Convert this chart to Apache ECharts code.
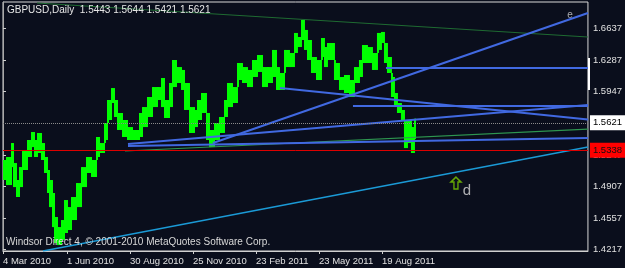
<!DOCTYPE html>
<html><head><meta charset="utf-8">
<script src="https://cdn.jsdelivr.net/npm/echarts@6/dist/echarts.min.js"></script>
<style>html,body{margin:0;padding:0;background:#0a0e1c;}#c{width:625px;height:268px;}</style>
</head><body><div id="c"></div>
<script>
const segStart = [0,4,9,11,14,17,20,25,29,32,35,39,42,45,47,50,52,55,59,62,65,69,74,79,84,89,94,97,102,105,109,112,115,120,125,130,137,140,145,150,155,159,162,167,170,174,179,182,187,192,195,199,204,207,212,217,222,225,230,235,240,245,250,255,260,265,270,274,277,282,287,292,295,299,302,305,309,314,319,322,325,332,337,342,347,352,357,360,365,370,375,379,382,385,389,392,395,399,402,405,409,412];
const segHigh = [1.5192,1.5225,1.5378,1.5159,1.4973,1.5115,1.5302,1.5411,1.5499,1.5411,1.5488,1.5378,1.5225,1.5083,1.4973,1.4831,1.4568,1.4458,1.4535,1.4754,1.4677,1.4787,1.4940,1.5115,1.5225,1.5192,1.5444,1.5378,1.5597,1.5849,1.5980,1.5849,1.5707,1.5630,1.5553,1.5521,1.5707,1.5772,1.5882,1.5991,1.5991,1.6090,1.5849,1.6035,1.6287,1.6210,1.6178,1.6035,1.5772,1.5740,1.5849,1.5926,1.5707,1.5521,1.5597,1.5663,1.5849,1.6035,1.5991,1.6254,1.6210,1.6178,1.6287,1.6342,1.6210,1.6210,1.6397,1.6210,1.6145,1.6397,1.6364,1.6583,1.6539,1.6725,1.6616,1.6506,1.6320,1.6287,1.6528,1.6429,1.6473,1.6254,1.6101,1.6123,1.6068,1.6210,1.6287,1.6451,1.6429,1.6364,1.6583,1.6594,1.6473,1.6320,1.6101,1.5926,1.5816,1.5740,1.5630,1.5630,1.5553,1.5644];
const segLow = [1.4973,1.4918,1.5115,1.4896,1.4787,1.4896,1.5083,1.5225,1.5334,1.5225,1.5269,1.5192,1.5050,1.4831,1.4677,1.4458,1.4283,1.4261,1.4316,1.4393,1.4426,1.4535,1.4677,1.4896,1.5050,1.5006,1.5225,1.5269,1.5411,1.5630,1.5816,1.5663,1.5521,1.5444,1.5411,1.5411,1.5444,1.5553,1.5663,1.5772,1.5849,1.5772,1.5652,1.5772,1.5991,1.6035,1.5959,1.5740,1.5488,1.5553,1.5630,1.5707,1.5411,1.5334,1.5411,1.5488,1.5663,1.5772,1.5816,1.6068,1.6035,1.5991,1.6101,1.6156,1.5991,1.6035,1.6101,1.5959,1.5959,1.6210,1.6210,1.6364,1.6429,1.6506,1.6397,1.6287,1.6145,1.6068,1.6320,1.6210,1.6287,1.6068,1.5959,1.5926,1.5882,1.6035,1.6101,1.6254,1.6254,1.6178,1.6397,1.6473,1.6254,1.6145,1.5882,1.5772,1.5707,1.5630,1.5323,1.5378,1.5269,1.5421];
const lastIndex = 413;

// Trendline endpoints [barIndex, price]
const blueA = [[210,1.5378],[585,1.6802]];
const blueB = [[277,1.5980],[585,1.5635]];
const blueC = [[125,1.5367],[585,1.5794]];
const blueD = [[350,1.5783],[585,1.5783]];
const blueE = [[383,1.6199],[585,1.6199]];
const blueF = [[125,1.5345],[585,1.5433]];
const greenTop = [[34,1.6911],[585,1.6539]];
const greenLow = [[122,1.5291],[585,1.5531]];
const cyanLine = [[40,1.4196],[585,1.5334]];

const bidPrice = 1.5621;
const redLevel = 1.5338;
const yTicks = [1.6637,1.6287,1.5947,1.5247,1.4907,1.4557,1.4217];
const xTickIdx = [0,64,127,190,253,316,379];
const xTickLabels = ['4 Mar 2010','1 Jun 2010','30 Aug 2010','25 Nov 2010','23 Feb 2011','23 May 2011','19 Aug 2011'];
const markE = [567,1.6780];
const markD = [464,1.4853];
const arrowUp = [453,1.4940];
const header = 'GBPUSD,Daily  1.5443 1.5644 1.5421 1.5621';
const credit = 'Windsor Direct 4, \u00a9 2001-2010 MetaQuotes Software Corp.';

const FONT = 'Liberation Sans';
const bars = segStart.map((s,i)=>[s, i<segStart.length-1 ? segStart[i+1] : lastIndex, segHigh[i], segLow[i]]);

function tl(data, color, width){
  return {type:'line', data:data, symbol:'none', silent:true, z:5,
    lineStyle:{color:color, width:width}};
}

const chart = echarts.init(document.getElementById('c'), null, {renderer:'canvas'});
chart.setOption({
  backgroundColor:'#0a0e1c',
  animation:false,
  grid:{left:3, right:37, top:2, bottom:17, show:true, borderColor:'#d8d8d8', borderWidth:1, backgroundColor:'transparent'},
  xAxis:{type:'value', min:0, max:585,
    axisLine:{show:true, lineStyle:{color:'#d0d0d0'}},
    axisTick:{show:true, length:3, lineStyle:{color:'#d0d0d0'}, customValues:xTickIdx},
    axisLabel:{color:'#e0e0e0', fontFamily:FONT, fontSize:9.5, align:'left', margin:5, customValues:xTickIdx,
      formatter:function(v){const k=xTickIdx.indexOf(Math.round(v)); return k>=0?xTickLabels[k]:'';}},
    splitLine:{show:false}},
  yAxis:{type:'value', position:'right', min:1.4196, max:1.6922, z:0,
    axisLine:{show:true, lineStyle:{color:'#a8a8a8'}},
    axisTick:{show:true, length:3, lineStyle:{color:'#d0d0d0'}, customValues:yTicks},
    axisLabel:{color:'#e0e0e0', fontFamily:FONT, fontSize:9.5, margin:5, customValues:yTicks,
      formatter:function(v){return v.toFixed(4);}},
    splitLine:{show:false}},
  series:[
    {type:'line', data:[], silent:true, z:20,
      markLine:{symbol:'none', silent:true, animation:false, z:20,
        data:[
          {yAxis:bidPrice, lineStyle:{color:'#8a8a8a', type:'dotted', width:1},
            label:{show:true, position:'end', distance:2, formatter:bidPrice.toFixed(4), color:'#000', backgroundColor:'#fff',
              fontFamily:FONT, fontSize:9.5, padding:[3,4,2,3]}},
          {yAxis:redLevel, lineStyle:{color:'#dd0000', type:'solid', width:1},
            label:{show:true, position:'end', distance:2, formatter:redLevel.toFixed(4), color:'#111', backgroundColor:'#ff0000',
              fontFamily:FONT, fontSize:9.5, padding:[3,4,2,3]}}
        ]}},
    {type:'custom', z:3, silent:true, data:bars, encode:{x:[0,1], y:[2,3]},
      renderItem:function(params, api){
        const i = params.dataIndex;
        const a = api.coord([api.value(0), api.value(2)]);
        const b = api.coord([api.value(1), api.value(3)]);
        const children = [{type:'rect', shape:{x:a[0], y:a[1], width:Math.max(1,b[0]-a[0]), height:Math.max(1,b[1]-a[1])},
          style:{fill:'#00ff00'}}];
        if (i < bars.length-1) {
          const nx = bars[i+1];
          const top = Math.max(api.value(3), nx[2]);
          const bot = Math.min(api.value(2), nx[3]);
          const hiP = Math.max(top, bot), loP = Math.min(top, bot);
          const c1 = api.coord([nx[0], hiP]), c2 = api.coord([nx[0], loP]);
          children.push({type:'rect', shape:{x:c1[0]-1, y:c1[1], width:2, height:Math.max(1,c2[1]-c1[1])}, style:{fill:'#00ff00'}});
        }
        return {type:'group', children:children};
      }},
    tl(greenTop,'#1f6b32',1.2),
    tl(greenLow,'#2e9650',1.2),
    tl(cyanLine,'#1b9ad6',1.5),
    tl(blueA,'#4169e1',2),
    tl(blueB,'#4169e1',2),
    tl(blueC,'#4169e1',2),
    tl(blueD,'#4169e1',2),
    tl(blueE,'#4169e1',2),
    tl(blueF,'#4169e1',2),
    {type:'scatter', z:6, silent:true, symbolSize:1, itemStyle:{color:'transparent'},
      data:[{value:markE, label:{show:true, position:'inside', formatter:'e', color:'#d0d0d0', fontFamily:FONT, fontSize:10}},
            {value:markD, label:{show:true, position:'inside', formatter:'d', color:'#d8d8d8', fontFamily:FONT, fontSize:15}}]},
    {type:'scatter', z:6, silent:true, data:[arrowUp],
      symbol:'path://M5,0 L10,5 L7,5 L7,12 L3,12 L3,5 L0,5 Z', symbolSize:[10,12],
      itemStyle:{color:'transparent', borderColor:'#7ccd00', borderWidth:1.5}}
  ],
  graphic:[
    {type:'text', left:7, top:5, silent:true, z:10, style:{text:header, fill:'#e6e6e6', font:'10px "Liberation Sans"'}},
    {type:'text', left:6, top:237, silent:true, z:10, style:{text:credit, fill:'#d8d8d8', font:'10px "Liberation Sans"'}},
    {type:'rect', shape:{x:588, y:58, width:2, height:32}, silent:true, z:10, style:{fill:'#ffffff'}}
  ]
});
</script></body></html>
